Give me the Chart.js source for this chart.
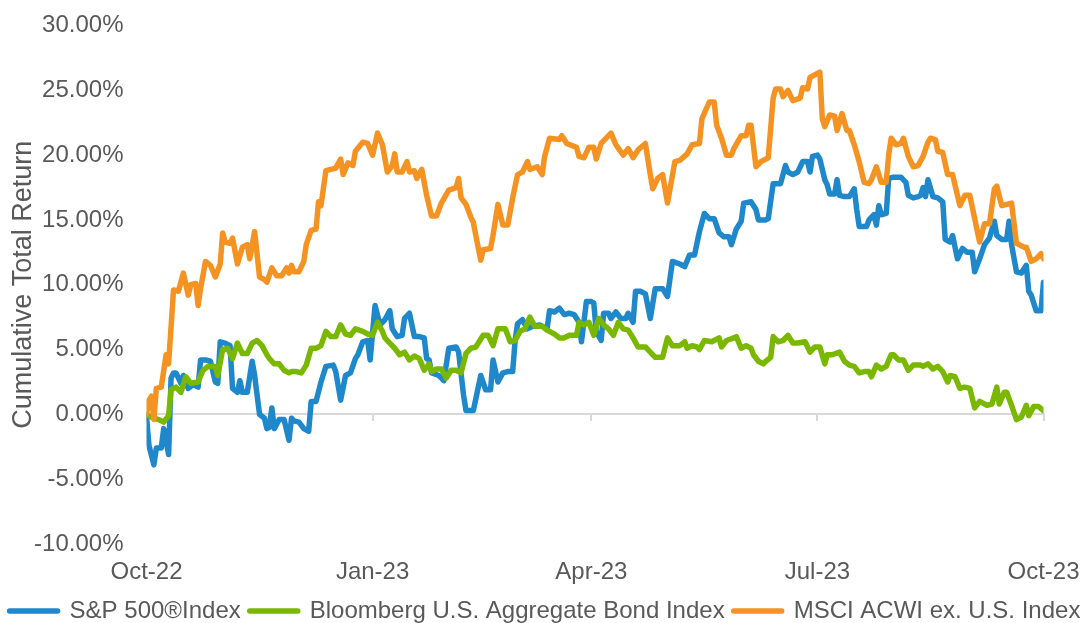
<!DOCTYPE html>
<html>
<head>
<meta charset="utf-8">
<script src="https://cdn.jsdelivr.net/npm/chart.js@4.4.0/dist/chart.umd.min.js"></script>
<style>
  html, body { margin: 0; padding: 0; background: #ffffff; }
  #wrap { width: 1090px; height: 623px; position: relative; }
</style>
</head>
<body>
<div id="wrap"><canvas id="c"></canvas></div>
<script>
// ---- Axis labels (x in days since 1 Oct 2022) ----
const tickDays = [0, 92, 181, 273, 365];
const tickLabels = ['Oct-22', 'Jan-23', 'Apr-23', 'Jul-23', 'Oct-23'];
const yTickValues = [-10, -5, 0, 5, 10, 15, 20, 25, 30];
const seriesNames = ['S&P 500®Index', 'Bloomberg U.S. Aggregate Bond Index', 'MSCI ACWI ex. U.S. Index'];

// ---- S&P 500 cumulative total return (%) ----
const spDays = [0,1,3,4,6,7,9,10,11,12,14,15,17,19,21,22,24,26,28,29,30,32,34,35,37,38,39,41,43,44,46,48,49,50,51,52,54,56,58,59,60,62,64,66,67,69,71,73,76,77,79,81,83,85,86,88,90,91,93,95,97,99,100,102,104,105,107,109,111,113,114,115,116,119,121,123,126,127,129,130,133,134,136,138,140,141,143,145,147,149,150,151,153,155,157,160,163,164,166,168,170,172,174,176,177,179,181,182,183,185,186,188,189,191,193,195,196,198,199,201,203,205,207,210,212,214,217,219,221,223,225,227,229,231,233,235,237,238,240,242,243,246,248,249,252,253,255,258,260,261,263,265,267,269,270,271,273,274,276,277,278,280,281,282,284,286,288,289,290,293,294,296,297,298,299,301,302,304,307,309,310,312,314,315,316,317,318,320,322,324,325,327,328,330,332,334,336,337,339,341,343,345,346,348,350,351,352,354,356,358,359,360,362,364,365];
const spReturns = [-0.2,-2.4,-3.9,-2.6,-2.6,-1.1,-3.1,2.8,3.2,3.2,2.4,3.0,2.0,2.3,2.1,4.2,4.2,4.1,2.5,2.4,5.6,5.5,5.3,2.0,1.7,2.6,1.7,1.7,4.1,3.0,0.0,-0.3,-1.1,-1.0,0.5,-1.1,-0.4,-0.4,-2.0,-0.3,-0.5,-0.6,-1.1,-1.3,1.0,1.0,2.5,3.7,3.8,3.3,1.1,3.0,3.2,4.3,4.6,5.6,5.7,4.2,8.4,6.9,7.3,8.0,6.6,6.0,6.1,7.4,7.8,6.0,6.0,5.9,4.3,4.2,3.2,3.0,2.6,5.1,5.2,4.8,1.5,0.3,0.3,1.2,3.0,1.9,1.9,4.2,2.5,3.2,3.3,3.3,5.7,7.0,7.3,6.6,6.8,6.9,6.6,8.0,7.9,8.2,7.7,7.8,7.7,7.1,5.6,8.7,8.7,8.6,6.4,5.7,7.8,7.8,7.4,7.9,7.4,7.4,7.8,7.1,9.5,9.5,9.3,7.4,9.7,9.7,9.1,11.8,11.6,11.4,12.3,12.3,14.1,15.5,15.1,15.1,14.0,13.7,13.7,13.1,14.3,14.9,16.3,16.4,15.8,15.0,15.0,15.1,17.8,17.8,19.2,18.7,18.5,18.7,19.5,19.5,18.7,19.9,20.0,19.7,18.1,17.7,17.0,17.0,18.1,16.9,16.8,16.8,17.4,15.8,14.5,14.5,15.0,15.4,14.6,16.1,15.4,15.5,18.2,18.3,18.3,17.9,16.9,16.7,16.8,16.9,17.5,16.8,18.1,16.8,16.7,16.4,13.5,13.3,13.8,12.0,12.8,12.5,12.5,11.0,12.0,13.1,13.6,14.9,13.8,13.5,13.5,14.9,13.1,11.0,10.9,11.5,9.5,9.2,8.0,8.0,10.2];

// ---- Bloomberg U.S. Aggregate Bond Index cumulative total return (%) ----
const aggDays = [0,3,5,7,9,10,12,14,16,18,21,23,25,28,29,31,33,35,37,39,41,43,45,47,49,50,52,54,56,58,59,61,63,65,67,69,71,73,75,77,79,81,83,85,88,90,92,94,96,97,99,101,103,105,107,109,111,113,115,116,118,120,122,124,126,128,130,132,134,137,139,141,143,146,148,150,152,154,156,158,161,163,166,168,170,172,175,176,178,180,182,184,186,188,190,192,194,196,198,200,203,205,207,210,212,214,217,219,220,222,224,225,227,230,233,234,236,239,240,242,244,246,247,249,251,252,254,255,257,259,261,263,265,268,270,272,274,276,277,279,282,284,286,288,290,292,294,295,297,299,301,303,304,306,308,310,312,315,316,318,320,322,324,326,327,329,331,333,335,337,339,342,344,346,347,349,350,352,354,356,358,359,361,363,365];
const aggReturns = [0.0,-0.3,-0.4,-0.6,-0.1,1.9,2.1,1.7,2.9,2.4,2.5,3.4,3.7,3.7,3.0,5.0,5.1,4.3,5.5,4.7,4.7,5.5,5.7,5.3,4.6,4.3,3.9,3.9,3.4,3.2,3.3,3.3,3.2,3.8,5.1,5.1,5.3,6.4,6.0,6.0,6.9,6.2,6.1,6.6,6.4,6.2,6.1,7.1,6.4,5.9,5.5,5.1,4.6,4.8,4.2,4.5,4.3,3.4,3.9,3.3,3.5,3.5,2.8,3.4,3.4,3.2,4.7,5.1,5.2,6.1,6.1,5.3,6.6,6.6,5.6,5.7,6.4,6.6,7.5,6.8,6.8,6.5,6.2,5.9,5.9,6.1,6.1,7.1,6.9,7.1,6.1,7.4,6.9,6.6,6.1,7.1,6.6,6.5,5.9,5.2,5.2,4.8,4.4,4.4,5.9,5.3,5.3,5.6,5.1,5.3,5.2,5.0,5.7,5.6,5.9,5.2,5.7,5.9,6.0,5.1,5.3,5.1,4.6,4.1,3.9,4.1,4.4,6.0,5.6,5.7,6.1,5.5,5.5,5.6,4.8,5.2,5.2,3.9,4.6,4.6,4.8,4.1,3.8,3.7,3.2,3.3,3.3,2.9,3.8,3.5,3.7,4.6,4.6,4.2,4.2,3.4,3.8,3.8,3.7,3.9,3.5,3.7,3.3,2.5,3.0,2.9,2.0,2.1,2.0,0.5,1.0,0.7,0.8,2.1,0.8,1.7,1.7,0.7,-0.4,-0.2,0.7,-0.1,0.6,0.6,0.3];

// ---- MSCI ACWI ex. U.S. Index cumulative total return (%) ----
const acwiDays = [0,1,2,3,4,6,8,9,11,13,15,17,18,20,21,22,24,26,28,30,31,32,34,35,37,39,41,42,44,46,48,49,51,53,55,57,58,59,60,62,64,65,67,69,70,71,73,77,79,80,82,84,85,88,90,92,94,96,98,100,101,102,104,106,107,109,110,112,114,116,118,120,123,126,127,128,130,132,133,134,136,137,140,141,143,145,147,149,151,153,155,156,159,161,162,164,168,169,171,175,176,178,180,182,183,185,189,191,194,196,198,200,203,205,206,208,210,212,215,217,220,222,225,226,229,231,232,234,236,238,239,242,244,245,246,248,250,253,255,256,258,259,261,263,266,267,269,270,272,274,275,276,278,280,281,283,285,286,288,290,292,294,295,297,299,301,302,303,305,307,308,310,312,314,316,318,319,321,322,324,326,328,330,331,333,335,337,339,341,343,345,346,348,350,352,354,357,358,360,362,364,365];
const acwiReturns = [0.0,1.1,1.4,-0.4,2.0,2.1,4.6,3.9,9.6,9.5,10.9,9.2,10.0,10.1,8.4,9.7,11.8,11.5,10.6,11.6,14.0,13.3,13.2,13.6,11.6,12.9,13.1,12.0,14.1,10.6,10.4,10.2,11.3,10.7,10.7,11.3,10.9,11.5,11.0,11.0,11.8,13.1,14.2,14.3,16.4,16.1,18.8,19.0,19.7,18.5,19.4,19.2,20.3,21.0,20.9,20.0,21.7,20.8,18.7,19.2,20.1,18.7,18.7,19.5,18.7,18.8,18.2,18.9,16.9,15.3,15.3,16.3,17.3,17.5,18.2,16.7,16.2,15.2,14.8,13.8,11.9,12.7,12.8,13.8,16.2,14.6,14.6,16.7,18.5,18.7,19.5,18.9,19.1,18.5,19.9,21.3,21.2,21.5,20.9,20.6,19.9,19.8,20.6,20.6,19.7,20.9,21.7,20.8,20.0,20.5,19.8,20.4,20.9,18.5,17.4,18.2,18.5,16.3,19.5,19.6,20.1,20.8,20.9,22.8,24.1,24.1,22.3,21.3,20.0,20.0,20.5,21.5,21.5,22.3,22.3,19.1,19.5,19.8,24.4,25.1,25.1,24.5,25.0,24.2,24.4,25.2,25.1,26.0,26.2,26.4,22.8,22.2,23.1,23.0,21.9,23.2,21.9,21.9,20.8,19.5,17.9,17.8,18.1,19.1,17.9,17.9,20.0,21.3,20.8,20.9,21.3,19.9,19.1,19.2,19.9,21.0,21.3,21.2,20.3,20.2,18.5,18.5,16.9,16.1,16.9,16.9,15.1,13.3,14.7,14.7,17.4,17.6,16.1,16.2,16.3,13.2,12.9,12.9,11.8,12.0,12.4,12.0];

const toPoints = (days, vals) => days.map((d, i) => ({ x: d, y: vals[i] }));
const FONT = "'Liberation Sans', Arial, Helvetica, sans-serif";
const TXT = '#595959';
const setXTicks = s => { s.ticks = tickDays.map(v => ({ value: v })); };

new Chart(document.getElementById('c'), {
  type: 'line',
  data: {
    datasets: [
      { label: seriesNames[0], data: toPoints(spDays, spReturns), borderColor: '#1e88cb', backgroundColor: '#1e88cb', order: 3 },
      { label: seriesNames[1], data: toPoints(aggDays, aggReturns), borderColor: '#7ab800', backgroundColor: '#7ab800', order: 2 },
      { label: seriesNames[2], data: toPoints(acwiDays, acwiReturns), borderColor: '#f49322', backgroundColor: '#f49322', order: 1 }
    ]
  },
  options: {
    responsive: true,
    maintainAspectRatio: false,
    animation: false,
    devicePixelRatio: 1,
    layout: { padding: { top: 25.5, left: 0, right: 0, bottom: -10 } },
    elements: {
      line: { borderWidth: 5.5, tension: 0, borderJoinStyle: 'round', borderCapStyle: 'round', fill: false },
      point: { radius: 0, hoverRadius: 0, hitRadius: 0 }
    },
    plugins: {
      tooltip: { enabled: false },
      legend: {
        position: 'bottom',
        labels: {
          font: { family: FONT, size: 24 },
          color: TXT,
          padding: 9,
          usePointStyle: true,
          pointStyle: 'line',
          pointStyleWidth: 48,
          sort: (a, b) => a.datasetIndex - b.datasetIndex,
          generateLabels: (chart) => {
            const items = Chart.defaults.plugins.legend.labels.generateLabels(chart);
            items.forEach(it => { it.lineWidth = 5.5; it.lineCap = 'round'; it.pointStyle = 'line'; });
            return items;
          }
        }
      }
    },
    scales: {
      x: {
        type: 'linear', position: 'bottom', min: 0, max: 365,
        afterBuildTicks: setXTicks,
        afterFit: s => { s.height = 46; },
        ticks: {
          autoSkip: false, maxRotation: 0, minRotation: 0, padding: 0,
          font: { family: FONT, size: 24 }, color: TXT,
          callback: v => { const i = tickDays.indexOf(v); return i >= 0 ? tickLabels[i] : ''; }
        },
        grid: { display: false, drawTicks: true, tickLength: 14 },
        border: { display: false }
      },
      xZero: {
        type: 'linear', position: { y: 0 }, min: 0, max: 365,
        afterBuildTicks: setXTicks,
        afterFit: s => { s.height = 0; },
        ticks: { display: false },
        grid: { drawOnChartArea: false, drawTicks: true, tickLength: 6, color: '#d9d9d9', lineWidth: 2 },
        border: { display: true, color: '#d9d9d9', width: 2 }
      },
      y: {
        type: 'linear', position: 'left', min: -10, max: 30,
        afterBuildTicks: s => { s.ticks = yTickValues.map(v => ({ value: v })); },
        afterFit: s => { s.width = 146.5; },
        ticks: {
          padding: 1, font: { family: FONT, size: 24 }, color: TXT,
          callback: v => v.toFixed(2) + '%'
        },
        grid: { display: false, drawTicks: true, tickLength: 22 },
        border: { display: false },
        title: {
          display: true, text: 'Cumulative Total Return',
          font: { family: FONT, size: 27 }, color: TXT,
          padding: { top: 7, bottom: 0 }
        }
      },
      yRight: {
        type: 'linear', position: 'right', display: true, min: -10, max: 30,
        afterFit: s => { s.width = 46.5; },
        ticks: { display: false },
        grid: { display: false, drawTicks: false },
        border: { display: false }
      }
    }
  }
});
</script>
</body>
</html>
